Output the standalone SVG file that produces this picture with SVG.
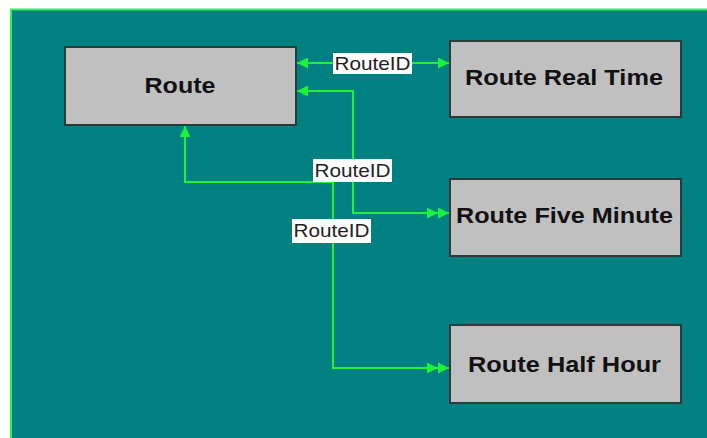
<svg xmlns="http://www.w3.org/2000/svg" width="707" height="438" viewBox="0 0 707 438">
<defs>
<style>
.node rect{fill:#c0c0c0;stroke:#2b3b3b;stroke-width:2}
.node text{font-family:"Liberation Sans",Arial,sans-serif;font-weight:bold;font-size:22px;fill:#111;text-anchor:middle}
.conn path{fill:none;stroke:#1cf23a;stroke-width:2}
.lbl rect{fill:#ffffff}
.lbl text{font-family:"Liberation Sans",Arial,sans-serif;font-size:19px;fill:#222;text-anchor:middle}
</style>
<marker id="a1" viewBox="0 0 11 11" refX="11" refY="5.5" markerWidth="11" markerHeight="11" markerUnits="userSpaceOnUse" orient="auto-start-reverse">
<path d="M0,0 L11,5.5 L0,11 Z" fill="#1cf23a"/>
</marker>
<marker id="a2" viewBox="0 0 22 11" refX="22" refY="5.5" markerWidth="22" markerHeight="11" markerUnits="userSpaceOnUse" orient="auto">
<path d="M0,0 L11,5.5 L0,11 Z M11,0 L22,5.5 L11,11 Z" fill="#1cf23a"/>
</marker>
</defs>
<rect x="0" y="0" width="707" height="438" fill="#ffffff"/>
<rect x="11" y="9.5" width="700" height="435" fill="#008080" stroke="#33ee55" stroke-width="2"/>
<g id="connectors" class="conn">
<path d="M297,63 H449" marker-start="url(#a1)" marker-end="url(#a1)"/>
<path d="M297,91 H353 V213 H449" marker-start="url(#a1)" marker-end="url(#a2)"/>
<path d="M185,126 V182 H333 V368 H449" marker-start="url(#a1)" marker-end="url(#a2)"/>
</g>
<g id="labels" class="lbl">
<g id="label1"><rect x="333" y="53" width="79" height="21"/><text x="372.5" y="70" textLength="76" lengthAdjust="spacingAndGlyphs">RouteID</text></g>
<g id="label2"><rect x="313" y="159" width="79" height="23"/><text x="352.5" y="177" textLength="76" lengthAdjust="spacingAndGlyphs">RouteID</text></g>
<g id="label3"><rect x="292" y="219" width="79" height="24"/><text x="331.5" y="237" textLength="76" lengthAdjust="spacingAndGlyphs">RouteID</text></g>
</g>
<g id="node-route" class="node"><rect x="65" y="47" width="231" height="78"/><text x="180" y="93" textLength="71" lengthAdjust="spacingAndGlyphs">Route</text></g>
<g id="node-realtime" class="node"><rect x="450" y="41" width="231" height="76"/><text x="564" y="85" textLength="198" lengthAdjust="spacingAndGlyphs">Route Real Time</text></g>
<g id="node-fiveminute" class="node"><rect x="450" y="179" width="231" height="77"/><text x="564.5" y="223" textLength="217" lengthAdjust="spacingAndGlyphs">Route Five Minute</text></g>
<g id="node-halfhour" class="node"><rect x="450" y="325" width="231" height="78"/><text x="564.5" y="372" textLength="193" lengthAdjust="spacingAndGlyphs">Route Half Hour</text></g>
</svg>
